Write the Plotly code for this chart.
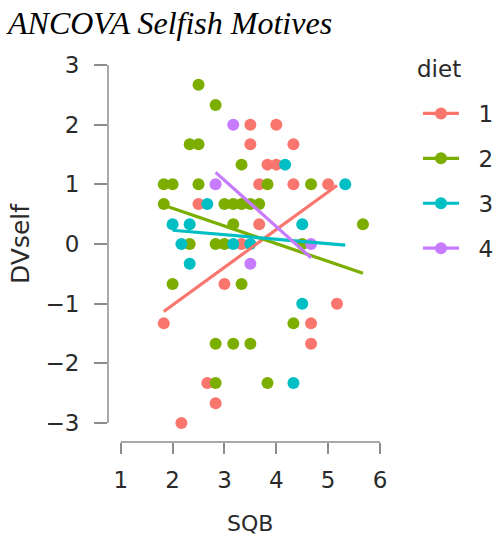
import plotly.graph_objects as go

# ---- data ----
diet_labels = ["1", "2", "3", "4"]
colors = ["#F8766D", "#7CAE00", "#00BFC4", "#C77CFF"]

sqb_1 = [3.5, 4.0, 3.5, 4.33, 3.83, 4.0, 3.67, 4.33, 5.0, 2.5, 3.67, 3.33, 3.0, 1.83, 5.17, 4.67, 4.67, 2.67, 2.83, 2.17]
dv_1 = [2.0, 2.0, 1.67, 1.67, 1.33, 1.33, 1.0, 1.0, 1.0, 0.67, 0.33, 0.0, -0.67, -1.33, -1.0, -1.33, -1.67, -2.33, -2.67, -3.0]

sqb_2 = [2.5, 2.83, 2.33, 2.5, 3.33, 1.83, 2.0, 2.5, 3.83, 4.67, 1.83, 3.0, 3.17, 3.33, 3.5, 3.67,
         3.17, 5.67, 2.33, 2.83, 3.0, 4.5, 2.0, 3.33, 2.83, 3.17, 3.5, 2.83, 3.83, 4.33]
dv_2 = [2.67, 2.33, 1.67, 1.67, 1.33, 1.0, 1.0, 1.0, 1.0, 1.0, 0.67, 0.67, 0.67, 0.67, 0.67, 0.67,
        0.33, 0.33, 0.0, 0.0, 0.0, 0.0, -0.67, -0.67, -1.67, -1.67, -1.67, -2.33, -2.33, -1.33]

sqb_3 = [2.67, 2.0, 2.33, 2.17, 3.17, 3.5, 2.33, 4.17, 5.33, 4.5, 4.5, 4.33]
dv_3 = [0.67, 0.33, 0.33, 0.0, 0.0, 0.0, -0.33, 1.33, 1.0, 0.33, -1.0, -2.33]

sqb_4 = [3.17, 2.83, 3.5, 4.67]
dv_4 = [2.0, 1.0, -0.33, 0.0]

# fitted-line end points per diet
fit_x0 = [1.83, 1.83, 2.0, 2.83]
fit_x1 = [5.17, 5.67, 5.33, 4.67]
fit_y0 = [-1.13, 0.65, 0.23, 1.20]
fit_y1 = [0.98, -0.49, -0.02, -0.23]

x_ticks = [1, 2, 3, 4, 5, 6]
y_ticks = [-3, -2, -1, 0, 1, 2, 3]

sqb_all = [sqb_1, sqb_2, sqb_3, sqb_4]
dv_all = [dv_1, dv_2, dv_3, dv_4]

fig = go.Figure()

for i in range(4):
    fig.add_trace(go.Scatter(x=sqb_all[i], y=dv_all[i], mode="markers",
                             marker=dict(color=colors[i], size=12, line=dict(width=0)),
                             showlegend=False, hoverinfo="x+y"))
for i in range(4):
    fig.add_trace(go.Scatter(x=[fit_x0[i], fit_x1[i]], y=[fit_y0[i], fit_y1[i]], mode="lines",
                             line=dict(color=colors[i], width=3.2), showlegend=False))
for i in range(4):
    fig.add_trace(go.Scatter(x=[None], y=[None], mode="lines+markers",
                             name="\u00a0\u00a0" + diet_labels[i],
                             legendgroup=diet_labels[i],
                             line=dict(color=colors[i], width=3.2),
                             marker=dict(color=colors[i], size=12)))

axis_col = "#8c8c8c"
txt_col = "#2a2a2a"
tick_font = dict(family="DejaVu Sans", size=23, color=txt_col)

PL, PR, PT, PB = 108, 393, 46, 442  # plot area in pixels
PW, PH = PR - PL, PB - PT

fig.update_layout(
    width=496, height=536,
    margin=dict(l=PL, r=496 - PR, t=PT, b=536 - PB, autoexpand=False),
    paper_bgcolor="white", plot_bgcolor="white",
    title=dict(text="ANCOVA Selfish Motives", xref="container", yref="container",
               x=8 / 496, xanchor="left", y=1 - 23 / 536, yanchor="middle",
               font=dict(family="Liberation Serif", size=32, color="black", style="italic")),
    xaxis=dict(range=[0.755, 6.25], tickvals=x_ticks, ticks="outside", ticklen=11,
               tickwidth=1.5, tickcolor=axis_col, showline=False, showgrid=False,
               zeroline=False, tickfont=tick_font, ticklabelstandoff=6),
    yaxis=dict(range=[-3.318, 3.318], tickvals=y_ticks, ticks="outside", ticklen=13,
               tickwidth=1.5, tickcolor=axis_col, showline=False, showgrid=False,
               zeroline=False, tickfont=tick_font, ticklabelstandoff=10),
    legend=dict(x=(418 - PL) / PW, xanchor="left", y=(PB - 92) / PH, yanchor="top",
                font=dict(family="DejaVu Sans", size=23, color=txt_col),
                itemwidth=36, tracegroupgap=12, bgcolor="rgba(0,0,0,0)"),
    showlegend=True,
)

# axis lines spanning only the tick range
fig.add_shape(type="line", xref="x", yref="paper", x0=1, x1=6, y0=0, y1=0,
              line=dict(color=axis_col, width=1.5))
fig.add_shape(type="line", xref="paper", yref="y", x0=0, x1=0, y0=-3, y1=3,
              line=dict(color=axis_col, width=1.5))

fig.add_annotation(text="diet", xref="paper", yref="paper", x=(415 - PL) / PW, y=(PB - 69) / PH,
                   xanchor="left", yanchor="middle", showarrow=False,
                   font=dict(family="DejaVu Sans", size=23, color=txt_col))
fig.add_annotation(text="SQB", xref="x", yref="paper", x=3.5, y=(PB - 523) / PH,
                   xanchor="center", yanchor="middle", showarrow=False,
                   font=dict(family="DejaVu Sans", size=22, color=txt_col))
fig.add_annotation(text="DVself", xref="paper", yref="y", x=(20 - PL) / PW, y=0,
                   xanchor="center", yanchor="middle", showarrow=False, textangle=-90,
                   font=dict(family="DejaVu Sans", size=25, color=txt_col))

fig.write_html("out.html", config={"displayModeBar": False},
               post_script="document.body.style.margin='0';")
